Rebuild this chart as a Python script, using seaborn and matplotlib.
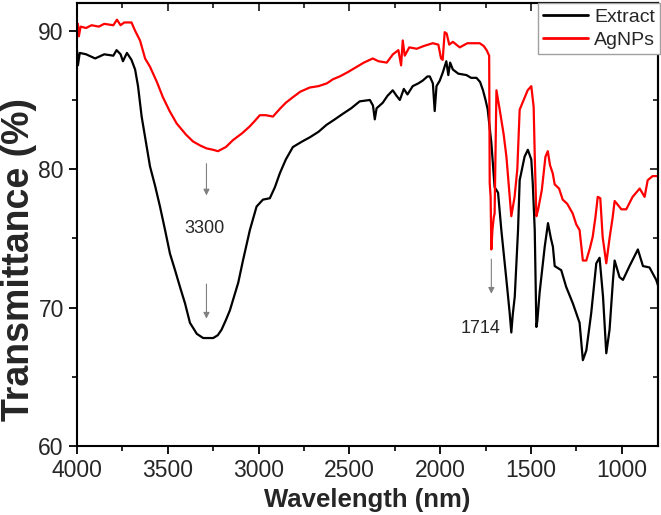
import numpy as np
import pandas as pd
import matplotlib
matplotlib.use('Agg')
import matplotlib.pyplot as plt
from matplotlib.ticker import MultipleLocator
import seaborn as sns

# Extract (black curve)
wn_extract = [4000, 3995, 3985, 3950, 3900, 3850, 3800, 3782, 3760, 3747, 3725, 3700, 3680, 3664, 3644,
              3620, 3598, 3570, 3543, 3515, 3488, 3460, 3433, 3405, 3378, 3340, 3305, 3250, 3225, 3204,
              3180, 3158, 3135, 3112, 3086, 3065, 3048, 3011, 2976, 2938, 2910, 2883, 2850, 2811, 2760,
              2718, 2670, 2626, 2580, 2536, 2490, 2443, 2387, 2370, 2360, 2350, 2316, 2290, 2261, 2240,
              2222, 2200, 2180, 2151, 2120, 2096, 2070, 2057, 2040, 2030, 2020, 2002, 1985, 1966, 1955,
              1945, 1930, 1900, 1855, 1830, 1800, 1780, 1764, 1750, 1738, 1718, 1700, 1681, 1663, 1635,
              1617, 1608, 1600, 1589, 1571, 1562, 1535, 1517, 1498, 1490, 1479, 1470, 1465, 1452, 1424,
              1406, 1390, 1379, 1369, 1333, 1306, 1269, 1232, 1214, 1195, 1168, 1140, 1122, 1103, 1085,
              1067, 1048, 1039, 1012, 993, 957, 911, 883, 847, 810, 800]
t_extract = [88.6, 87.5, 88.4, 88.3, 88.0, 88.3, 88.2, 88.6, 88.3, 87.8, 88.4, 87.9, 87.2, 86.0, 83.8,
             81.9, 80.2, 78.8, 77.3, 75.6, 73.9, 72.7, 71.5, 70.3, 68.9, 68.1, 67.8, 67.8, 68.0, 68.4,
             69.1, 69.8, 70.8, 71.8, 73.4, 74.6, 75.6, 77.3, 77.8, 77.9, 78.7, 79.7, 80.7, 81.6, 82.0,
             82.3, 82.7, 83.2, 83.6, 84.0, 84.4, 84.9, 85.0, 84.6, 83.6, 84.4, 84.8, 85.3, 85.7, 85.3,
             85.0, 85.8, 85.4, 86.0, 86.2, 86.4, 86.7, 86.7, 86.2, 84.2, 86.0, 86.4, 87.0, 87.8, 86.8,
             87.7, 87.2, 86.9, 86.8, 86.6, 86.6, 86.3, 85.7, 85.0, 84.3, 81.9, 78.7, 78.3, 75.6, 72.0,
             69.6, 68.2, 69.5, 70.8, 75.6, 79.2, 80.9, 81.4, 80.7, 79.0, 75.6, 68.6, 69.0, 71.1, 74.4,
             76.1, 75.0, 74.4, 73.0, 72.7, 71.5, 70.3, 68.9, 66.2, 66.9, 69.6, 73.2, 73.6, 70.8, 66.7,
             68.4, 72.0, 73.4, 72.2, 72.0, 73.0, 74.2, 73.0, 72.9, 72.0, 71.6]

# AgNPs (red curve)
wn_agnps = [4000, 3995, 3990, 3980, 3950, 3920, 3880, 3850, 3800, 3780, 3760, 3740, 3700, 3680, 3653,
            3625, 3598, 3560, 3527, 3490, 3451, 3400, 3361, 3320, 3286, 3250, 3224, 3180, 3141, 3090,
            3048, 3020, 2993, 2960, 2921, 2880, 2850, 2811, 2770, 2718, 2670, 2624, 2590, 2553, 2510,
            2459, 2420, 2371, 2340, 2294, 2260, 2230, 2215, 2206, 2195, 2170, 2129, 2090, 2041, 2010,
            1995, 1986, 1975, 1964, 1950, 1930, 1892, 1850, 1800, 1782, 1760, 1744, 1730, 1727, 1722,
            1718, 1712, 1705, 1700, 1690, 1672, 1650, 1635, 1620, 1608, 1590, 1575, 1562, 1540, 1518,
            1498, 1485, 1479, 1470, 1460, 1440, 1420, 1407, 1395, 1380, 1369, 1345, 1325, 1300, 1270,
            1250, 1232, 1214, 1195, 1175, 1160, 1145, 1132, 1118, 1105, 1085, 1066, 1050, 1039, 1020,
            1002, 975, 940, 901, 874, 857, 830, 800]
t_agnps = [89.9, 90.5, 89.6, 90.3, 90.2, 90.4, 90.3, 90.5, 90.4, 90.8, 90.4, 90.6, 90.6, 90.0, 89.3,
           88.0, 87.4, 86.3, 85.2, 84.2, 83.3, 82.5, 82.0, 81.7, 81.5, 81.4, 81.3, 81.6, 82.1, 82.6,
           83.1, 83.5, 83.9, 83.9, 83.8, 84.4, 84.8, 85.2, 85.6, 85.9, 86.0, 86.2, 86.5, 86.7, 87.0,
           87.4, 87.7, 88.0, 87.8, 87.7, 88.3, 88.6, 87.5, 89.3, 88.2, 88.8, 88.7, 88.9, 89.1, 89.0,
           88.0, 87.9, 89.9, 89.8, 89.0, 89.2, 88.8, 89.1, 89.1, 89.1, 88.9, 88.6, 88.2, 79.0, 78.0,
           74.2, 75.6, 76.5, 76.8, 85.7, 84.3, 82.5, 80.9, 78.5, 76.6, 78.0, 80.0, 84.3, 85.0, 85.7,
           86.0, 84.5, 81.0, 76.6, 77.1, 78.5, 80.9, 81.3, 80.3, 79.7, 78.9, 78.6, 77.8, 77.5, 76.8,
           76.0, 75.6, 73.4, 73.4, 74.3, 75.1, 76.5, 78.0, 77.9, 75.1, 73.2, 75.1, 76.5, 77.7, 77.4,
           77.1, 77.1, 78.0, 78.6, 78.0, 79.2, 79.5, 79.5]

series_names = ['Extract', 'AgNPs']
series_colors = {'Extract': 'black', 'AgNPs': 'red'}

df = pd.concat([
    pd.DataFrame({'wn': wn_extract, 't': t_extract, 'amostra': 'Extract'}),
    pd.DataFrame({'wn': wn_agnps, 't': t_agnps, 'amostra': 'AgNPs'}),
], ignore_index=True)

sns.set_style('ticks')
plt.rcParams['font.family'] = ['Liberation Sans', 'DejaVu Sans']

fig = plt.figure(figsize=(6.61, 5.15), dpi=100)
ax = fig.add_axes([0.1165, 0.134, 0.8790, 0.860])

sns.lineplot(
    data = df,
    x = 'wn',
    y = 't',
    hue = 'amostra',
    hue_order = series_names,
    palette = series_colors,
    estimator = None,
    sort = False,
    linewidth = 1.6,
    ax = ax,
)

ax.set_xlim(4000, 800)
ax.set_ylim(60, 92)
ax.xaxis.set_major_locator(MultipleLocator(500))
ax.xaxis.set_minor_locator(MultipleLocator(250))
ax.yaxis.set_major_locator(MultipleLocator(10))
ax.yaxis.set_minor_locator(MultipleLocator(5))

for lado in ['left', 'right', 'top', 'bottom']:
    ax.spines[lado].set_linewidth(1.5)
    ax.spines[lado].set_color('black')

ax.tick_params(which='major', direction='out', length=6, width=1.3, labelsize=16.5, color='black')
ax.tick_params(which='minor', direction='out', length=3.5, width=1.2, color='black')

# ticks por dentro no topo e na direita
topo = ax.secondary_xaxis('top')
topo.xaxis.set_major_locator(MultipleLocator(500))
topo.xaxis.set_minor_locator(MultipleLocator(250))
topo.tick_params(which='both', direction='in', labeltop=False, width=1.3)
topo.tick_params(which='major', length=6)
topo.tick_params(which='minor', length=3.5)
topo.spines['top'].set_linewidth(1.5)

direita = ax.secondary_yaxis('right')
direita.yaxis.set_major_locator(MultipleLocator(10))
direita.yaxis.set_minor_locator(MultipleLocator(5))
direita.tick_params(which='both', direction='in', labelright=False, width=1.3)
direita.tick_params(which='major', length=6)
direita.tick_params(which='minor', length=3.5)
direita.spines['right'].set_linewidth(1.5)

ax.set_xlabel('Wavelength (nm)', fontsize=18.5, fontweight='bold')
ax.set_ylabel('Transmittance (%)', fontsize=27, fontweight='bold')
ax.yaxis.set_label_coords(-0.068, 0.42)

# setas das bandas
seta = dict(arrowstyle='-|>', color='#808080', lw=0.8, mutation_scale=9)
ax.annotate('', xy=(3287, 77.9), xytext=(3287, 80.6), arrowprops=seta)
ax.annotate('', xy=(3287, 69.0), xytext=(3287, 71.9), arrowprops=seta)
ax.text(3300, 75.7, '3300', fontsize=13, ha='center', va='center')
ax.annotate('', xy=(1718, 70.8), xytext=(1718, 73.7), arrowprops=seta)
ax.text(1778, 68.5, '1714', fontsize=13, ha='center', va='center')

leg = ax.legend(
    loc='upper left',
    bbox_to_anchor=(0.793, 1.0),
    borderaxespad=0,
    fontsize=14,
    handlelength=2.35,
    handletextpad=0.3,
    labelspacing=0.3,
    borderpad=0.25,
    fancybox=False,
    framealpha=1,
    title=None,
)
leg.get_frame().set_edgecolor('#a0a0a0')
leg.get_frame().set_linewidth(1.0)
for linha in leg.get_lines():
    linha.set_linewidth(2.0)

fig.savefig('out.png', dpi=100)
